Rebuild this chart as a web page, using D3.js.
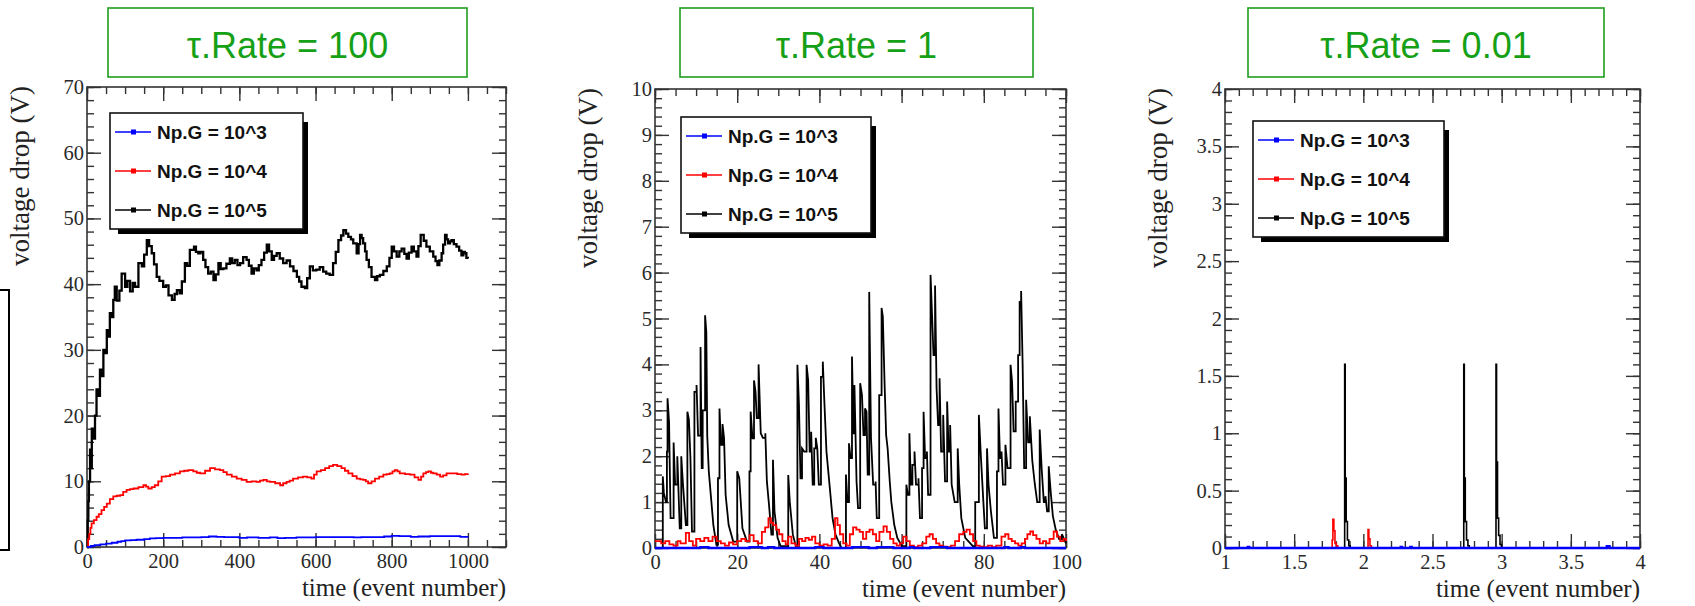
<!DOCTYPE html>
<html>
<head>
<meta charset="utf-8">
<script src="https://cdn.jsdelivr.net/npm/d3@7"></script>
<style>
  body { margin: 0; background: #fff; }
  svg { display: block; }
</style>
</head>
<body>
<svg id="chart" width="1695" height="606"></svg>
<script>
// ---------- data ----------
const panelTitles = ["τ.Rate = 100", "τ.Rate = 1", "τ.Rate = 0.01"];
const seriesLabels = ["Np.G = 10^3", "Np.G = 10^4", "Np.G = 10^5"];
const xAxisTitle = "time (event number)";
const yAxisTitle = "voltage drop (V)";

// τ.Rate = 100 : [event, volts]
const rate100_g3 = [[0,0],[10,0.15],[20,0.3],[35,0.4],[50,0.5],[65,0.65],[80,0.8],[90,0.9],[100,1.0],[115,1.05],[130,1.1],[150,1.2],[165,1.3],[180,1.35],[200,1.4],[250,1.45],[300,1.5],[320,1.6],[340,1.55],[360,1.5],[400,1.4],[420,1.45],[450,1.4],[480,1.45],[500,1.35],[520,1.4],[550,1.45],[600,1.5],[650,1.5],[700,1.45],[720,1.5],[780,1.6],[800,1.7],[820,1.65],[850,1.55],[870,1.6],[900,1.65],[950,1.65],[980,1.55],[1000,1.6]];
const rate100_g4 = [[0,0],[3,1.2],[6,2.0],[9,2.9],[12,3.6],[18,4.1],[25,4.6],[31,5.0],[38,5.6],[45,6.1],[52,6.6],[60,7.3],[69,7.7],[78,7.8],[87,7.9],[95,8.4],[104,8.7],[113,8.8],[122,8.9],[135,9.1],[148,9.4],[155,9.2],[161,8.9],[170,9.1],[178,9.4],[187,10.0],[196,10.7],[207,10.8],[218,11.0],[231,11.2],[244,11.5],[255,11.6],[266,11.7],[279,11.5],[288,11.3],[297,11.2],[310,11.6],[323,12.0],[336,11.8],[349,11.7],[358,11.4],[367,11.0],[380,10.7],[393,10.4],[406,10.2],[419,9.9],[432,10.0],[445,9.9],[454,10.1],[463,10.2],[472,10.0],[480,9.9],[494,9.7],[507,9.4],[515,9.7],[524,9.9],[532,10.1],[541,10.4],[554,10.6],[567,10.7],[578,10.6],[589,10.4],[596,11.0],[603,11.5],[614,11.7],[625,12.0],[636,12.3],[646,12.5],[657,12.3],[668,12.0],[677,11.6],[686,11.2],[697,10.8],[708,10.4],[717,10.3],[725,10.2],[732,10.0],[738,9.7],[747,10.0],[756,10.4],[767,10.7],[778,11.0],[787,11.1],[795,11.2],[802,11.5],[808,11.7],[815,11.5],[821,11.2],[835,11.1],[848,11.0],[860,10.6],[870,10.2],[877,10.7],[883,11.2],[890,11.4],[896,11.5],[903,11.3],[909,11.2],[918,11.0],[927,10.7],[935,10.9],[944,11.2],[952,11.2],[961,11.2],[972,11.1],[983,11.0],[992,11.1],[1000,11.2]];
const rate100_g5 = [[0,0],[2,4],[3.5,7],[5,10],[8,14.8],[10,12],[12.6,18],[16,16.5],[21,20],[25,24],[30,23],[34,27],[38,26],[43,30],[48,29.5],[52,33],[56,32],[60,35.6],[64,35],[69,37.6],[73,39.6],[78,37.5],[85,39],[91,41.6],[100,39.6],[106,40.5],[113,38.9],[120,40.2],[126,39.6],[135,43.2],[144,42.7],[150,44.5],[157,46.7],[163,45.8],[170,44.7],[176,43],[183,41.1],[190,40.5],[200,39.6],[207,39.8],[214,38.3],[223,37.6],[230,38.5],[236,39.1],[243,38.6],[249,40.4],[257,43.2],[263,42.8],[270,45.2],[281,45.7],[286,44.9],[292,44.7],[298,44.9],[305,43.7],[311,42.6],[318,41.6],[325,41.9],[332,40.6],[338,41.5],[345,43.2],[351,42.3],[358,42.4],[366,43.1],[375,43.9],[381,43.2],[388,43.7],[395,42.9],[402,43.2],[410,44.1],[419,43.7],[425,42.8],[432,41.6],[438,42.4],[445,42.1],[451,42.9],[458,43.7],[465,44.8],[472,46.0],[478,45.0],[485,43.7],[491,44.3],[498,44.7],[506,43.9],[515,43.2],[524,43.6],[533,42.7],[542,42.0],[551,41.1],[557,40.4],[563,39.6],[572,39.4],[578,40.9],[585,42.7],[593,42.1],[602,42.2],[611,42.6],[620,41.9],[628,41.6],[637,41.4],[646,43.2],[653,44.9],[660,46.7],[667,47.4],[673,48.2],[680,47.7],[686,47.2],[693,46.8],[699,46.2],[708,44.7],[713,46.1],[717,47.5],[721,47.0],[725,46.2],[730,45.0],[734,43.7],[740,42.6],[747,41.1],[756,40.6],[762,41.2],[769,41.4],[778,42.0],[787,42.7],[794,44.0],[800,45.7],[806,45.0],[813,44.2],[820,45.0],[826,45.4],[833,44.6],[839,43.9],[845,44.8],[852,45.7],[858,45.0],[865,44.2],[870,45.8],[876,47.5],[884,46.6],[891,45.7],[900,45.0],[909,44.2],[915,43.5],[920,42.9],[925,43.6],[931,44.7],[935,46.0],[940,47.5],[944,46.8],[948,46.2],[953,46.5],[957,46.7],[963,46.1],[970,45.7],[977,45.1],[983,44.4],[988,44.9],[992,44.7],[996,44.0],[1000,43.9]];

// τ.Rate = 1 : [event, volts]
const rate1_g3 = [[0,0],[11,0.02],[13,0],[23,0.02],[26,0],[27.5,0.02],[29,0],[39,0.02],[41,0],[48,0.02],[52,0],[54,0.02],[58,0],[62,0.02],[63,0],[67,0.02],[71,0],[85,0.02],[86,0],[89,0.02],[90,0],[100,0]];
const rate1_g4 = [[0,0.15],[1.5,0.1],[2.5,0.15],[3.5,0.08],[4.5,0.05],[5.5,0.15],[6.2,0.1],[7.5,0.33],[8.3,0.15],[9.2,0.05],[10,0.2],[11,0.15],[12,0.22],[13,0.15],[14,0.25],[15,0.15],[16,0.1],[17,0.05],[18,0.12],[19,0.08],[20,0.15],[21,0.2],[22,0.15],[23,0.28],[24,0.15],[25,0.1],[26,0.35],[26.8,0.45],[27.6,0.65],[28.2,0.55],[28.8,0.5],[29.5,0.4],[30.2,0.3],[31,0.15],[31.8,0.08],[32.4,0.25],[33.2,0.1],[34.2,0.05],[35,0.2],[35.8,0.15],[36.6,0.22],[37.4,0.18],[38.2,0.25],[39,0.1],[40,0.05],[41,0.08],[42,0.05],[43,0.2],[43.8,0.65],[44.4,0.5],[45,0.3],[45.8,0.1],[46.6,0.05],[47.4,0.3],[48.2,0.45],[49,0.4],[49.8,0.35],[50.6,0.2],[51.4,0.35],[52.2,0.4],[53,0.3],[53.8,0.15],[54.6,0.35],[55.6,0.47],[56.4,0.35],[57.2,0.2],[58,0.1],[58.8,0.05],[59.6,0.1],[60.4,0.25],[61.2,0.15],[62,0.05],[63,0.02],[64,0.05],[65,0.1],[66,0.25],[66.8,0.3],[67.6,0.2],[68.4,0.1],[69.2,0.05],[70,0.03],[71,0.02],[72,0.05],[73,0.15],[74,0.3],[75,0.35],[75.8,0.4],[76.6,0.3],[77.4,0.15],[78.2,0.05],[79,0.03],[80,0.02],[81,0.05],[82,0.02],[83,0.05],[84.3,0.25],[85.2,0.3],[86,0.2],[86.8,0.15],[87.6,0.1],[88.4,0.05],[89.2,0.1],[90,0.2],[90.6,0.3],[91.3,0.36],[92,0.28],[92.8,0.2],[93.6,0.1],[94.4,0.15],[95.2,0.1],[96,0.2],[97,0.36],[97.8,0.25],[98.6,0.15],[99.4,0.2],[100,0.15]];
const rate1_g5 = [[0,0],[1.9,0],[1.9,1.56],[2.15,1.2],[2.67,1.0],[2.9,2.1],[3.05,3.26],[3.42,2.75],[3.79,0.65],[4.53,2.3],[4.9,1.38],[5.43,2.0],[6.02,0.43],[6.39,2.0],[6.76,1.45],[7.51,0.5],[7.88,2.97],[8.25,2.8],[8.62,1.96],[9.0,0.36],[9.59,3.4],[10.11,3.55],[10.48,2.45],[11.08,4.38],[11.37,1.74],[11.6,3.0],[12.19,5.07],[12.49,4.7],[12.71,2.45],[13.09,1.67],[14.2,0.5],[14.94,0.07],[15.32,1.52],[15.69,3.04],[16.06,2.25],[16.43,2.7],[16.8,2.4],[17.18,1.16],[17.92,0.5],[19.03,0.14],[20.0,1.67],[20.5,1.52],[21.27,0.43],[22.38,0.14],[22.98,1.67],[23.27,2.97],[23.72,2.39],[24.09,3.65],[24.46,3.4],[24.76,2.83],[25.2,4.0],[25.73,2.5],[26.25,2.4],[26.84,2.5],[27.22,1.45],[27.74,0.94],[28.33,0.29],[28.7,1.92],[29.07,0.8],[29.82,0.22],[30.56,0.04],[32.42,1.59],[32.79,1.01],[33.54,0.29],[34.28,0.04],[34.65,3.99],[35.02,3.15],[35.4,1.52],[35.77,2.17],[36.29,2.1],[36.88,3.99],[37.26,3.66],[37.63,2.1],[38.0,2.53],[38.37,1.38],[38.74,2.17],[39.12,2.4],[39.49,2.17],[39.86,1.38],[40.38,3.73],[40.83,4.06],[41.2,3.2],[41.72,2.1],[42.46,1.38],[43.2,0.65],[43.9,0.3],[44.8,0.1],[45.36,0],[46.46,1.6],[46.83,1.0],[47.2,2.28],[47.57,1.96],[47.93,4.17],[48.3,2.5],[48.52,3.55],[49.04,1.45],[49.4,0.87],[49.92,3.59],[50.36,3.33],[50.73,2.46],[51.1,3.04],[51.46,2.97],[51.75,1.6],[52.12,5.58],[52.56,2.39],[53.08,1.38],[53.67,1.45],[53.96,0.65],[54.55,3.33],[55.13,5.23],[55.43,5.04],[55.87,3.55],[56.24,2.46],[56.6,2.17],[57.12,1.45],[57.49,1.01],[58.22,0.5],[58.96,0.22],[60.06,0.04],[61.16,1.38],[61.53,1.16],[61.9,2.5],[62.26,1.38],[62.63,1.81],[63.14,2.1],[63.51,1.38],[64.1,1.52],[64.47,0.65],[64.98,1.74],[65.35,2.97],[65.72,1.96],[66.16,2.1],[66.45,1.16],[67.04,5.95],[67.41,5.07],[67.77,4.2],[68.14,5.72],[68.51,3.48],[68.88,2.68],[69.24,3.7],[69.61,2.1],[70.12,2.9],[70.57,1.45],[71.08,3.19],[71.45,2.1],[71.81,2.68],[72.18,1.38],[72.92,1.0],[73.65,2.17],[74.02,1.38],[74.53,0.65],[75.49,0.22],[77.33,0.04],[77.91,1.0],[78.8,2.9],[79.31,1.96],[79.9,1.0],[80.26,0.43],[80.78,2.17],[81.15,1.38],[81.73,0.8],[82.47,0.22],[83.2,1.67],[83.57,3.04],[83.94,1.96],[84.31,2.1],[84.67,1.38],[85.26,2.25],[85.78,1.74],[86.51,3.99],[86.88,3.62],[87.25,2.54],[87.76,3.19],[88.35,4.2],[88.72,5.36],[89.08,5.6],[89.45,3.99],[89.82,1.74],[90.3,3.23],[90.8,2.3],[91.2,2.87],[91.8,1.9],[92.4,1.4],[93.0,1.0],[93.6,2.58],[94.1,1.7],[94.6,1.0],[95.0,1.13],[95.4,0.8],[95.8,1.78],[96.3,1.2],[96.8,0.7],[97.5,0.4],[98.3,0.2],[99.0,0.3],[100,0.1]];

// τ.Rate = 0.01 : [event, volts], held until the next event
const rate001_g3 = [[1,0],[1.165,0.01],[1.175,0],[2.27,0.01],[2.28,0],[2.34,0.01],[2.35,0],[3.76,0.015],[3.78,0],[4,0]];
const rate001_g4 = [[1,0],[1.775,0.07],[1.78,0.25],[1.787,0.15],[1.795,0.04],[1.805,0.02],[1.815,0],[2.034,0.16],[2.04,0.08],[2.048,0.02],[2.058,0],[4,0]];
const rate001_g5 = [[1,0],[1.865,1.6],[1.869,0.61],[1.876,0.23],[1.885,0.07],[1.895,0.02],[1.905,0],[2.726,1.6],[2.73,0.61],[2.737,0.23],[2.746,0.07],[2.756,0.02],[2.766,0],[2.959,1.6],[2.963,0.75],[2.97,0.26],[2.978,0.11],[2.988,0.03],[2.998,0],[4,0]];

// ---------- drawing ----------
const seriesColors = ["#0000ff", "#ff0000", "#000000"];
const svg = d3.select("#chart");
const fmt = d3.format("~g");
const serif = "'Liberation Serif', 'Times New Roman', serif";
const sans = "'Liberation Sans', Arial, sans-serif";

// rises are instantaneous jumps, falls follow the decay between samples
function jumpDecayPath(data, x, y) {
  let d = `M${x(data[0][0])},${y(data[0][1])}`;
  for (let i = 1; i < data.length; i++) {
    const [t, v] = data[i];
    if (v > data[i - 1][1]) d += `H${x(t)}V${y(v)}`;
    else d += `L${x(t)},${y(v)}`;
  }
  return d;
}

const panels = [
  { left: 87, top: 87, right: 506, bottom: 547,
    xDomain: [0, 1100], yDomain: [0, 70],
    xMajor: d3.range(0, 1001, 200), xMinor: d3.range(0, 1101, 50),
    yMajor: d3.range(0, 71, 10), yMinor: d3.range(0, 71, 2),
    series: [rate100_g3, rate100_g4, rate100_g5],
    modes: ["step", "step", "step"], widths: [1.8, 1.8, 2.3],
    box: [108, 8, 467, 77], legend: [110, 113, 303, 229] },
  { left: 655, top: 89, right: 1066, bottom: 548,
    xDomain: [0, 100], yDomain: [0, 10],
    xMajor: d3.range(0, 101, 20), xMinor: d3.range(0, 101, 5),
    yMajor: d3.range(0, 11, 1), yMinor: d3.range(0, 51).map(i => i / 5),
    series: [rate1_g3, rate1_g4, rate1_g5],
    modes: ["step", "step", "jump"], widths: [2.4, 1.8, 1.8],
    box: [680, 8, 1033, 77], legend: [681, 117, 871, 233] },
  { left: 1225, top: 89, right: 1640, bottom: 548,
    xDomain: [1, 4], yDomain: [0, 4],
    xMajor: d3.range(0, 7).map(i => 1 + i * 0.5), xMinor: d3.range(0, 31).map(i => 1 + i / 10),
    yMajor: d3.range(0, 9).map(i => i * 0.5), yMinor: d3.range(0, 41).map(i => i / 10),
    series: [rate001_g3, rate001_g4, rate001_g5],
    modes: ["step", "step", "step"], widths: [2.4, 1.6, 1.6],
    box: [1248, 8, 1604, 77], legend: [1253, 121, 1444, 237] }
];

// partial frame at the far left edge
svg.append("rect").attr("x", -6).attr("y", 290).attr("width", 15).attr("height", 260)
  .attr("fill", "none").attr("stroke", "#000").attr("stroke-width", 2);

panels.forEach((p, pi) => {
  const w = p.right - p.left, h = p.bottom - p.top;
  const x = d3.scaleLinear().domain(p.xDomain).range([0, w]);
  const y = d3.scaleLinear().domain(p.yDomain).range([h, 0]);

  // title box
  const [bx0, by0, bx1, by1] = p.box;
  svg.append("rect").attr("x", bx0).attr("y", by0).attr("width", bx1 - bx0).attr("height", by1 - by0)
    .attr("fill", "#fff").attr("stroke", "#1e9e1e").attr("stroke-width", 1.6);
  svg.append("text").attr("x", (bx0 + bx1) / 2).attr("y", 58).attr("text-anchor", "middle")
    .attr("font-family", sans).attr("font-size", 36)
    .attr("fill", "#16a016").text(panelTitles[pi]);

  const g = svg.append("g").attr("transform", `translate(${p.left},${p.top})`);

  const tickStyle = sel => {
    sel.select(".domain").remove();
    sel.selectAll(".tick line").attr("stroke", "#333").attr("stroke-width", 1.4);
    sel.selectAll(".tick text").attr("font-family", serif)
      .attr("font-size", 20.5).attr("fill", "#2a2a2a");
  };

  // minor ticks on all four sides
  g.append("g").attr("transform", `translate(0,${h})`).call(d3.axisBottom(x).tickValues(p.xMinor).tickSize(-7).tickFormat("")).call(tickStyle);
  g.append("g").call(d3.axisTop(x).tickValues(p.xMinor).tickSize(-7).tickFormat("")).call(tickStyle);
  g.append("g").call(d3.axisLeft(y).tickValues(p.yMinor).tickSize(-7).tickFormat("")).call(tickStyle);
  g.append("g").attr("transform", `translate(${w},0)`).call(d3.axisRight(y).tickValues(p.yMinor).tickSize(-7).tickFormat("")).call(tickStyle);
  // major ticks, labelled on bottom and left
  g.append("g").attr("transform", `translate(0,${h})`).call(d3.axisBottom(x).tickValues(p.xMajor).tickSize(-14).tickPadding(6).tickFormat(fmt)).call(tickStyle);
  g.append("g").call(d3.axisTop(x).tickValues(p.xMajor).tickSize(-14).tickFormat("")).call(tickStyle);
  g.append("g").call(d3.axisLeft(y).tickValues(p.yMajor).tickSize(-14).tickPadding(3).tickFormat(fmt)).call(tickStyle);
  g.append("g").attr("transform", `translate(${w},0)`).call(d3.axisRight(y).tickValues(p.yMajor).tickSize(-14).tickFormat("")).call(tickStyle);

  // frame
  g.append("rect").attr("width", w).attr("height", h).attr("fill", "none")
    .attr("stroke", "#333").attr("stroke-width", 1.6);

  // axis titles
  g.append("text").attr("x", w).attr("y", h + 49).attr("text-anchor", "end")
    .attr("font-family", serif).attr("font-size", 25)
    .attr("fill", "#222").text(xAxisTitle);
  g.append("text").attr("transform", `translate(-58,-1) rotate(-90)`).attr("text-anchor", "end")
    .attr("font-family", serif).attr("font-size", 27)
    .attr("fill", "#222").text(yAxisTitle);

  // series
  const clipId = `clip${pi}`;
  g.append("clipPath").attr("id", clipId).append("rect")
    .attr("x", -2).attr("y", -2).attr("width", w + 4).attr("height", h + 4);
  const stepLine = d3.line().x(d => x(d[0])).y(d => y(d[1])).curve(d3.curveStepAfter);
  const plot = g.append("g").attr("clip-path", `url(#${clipId})`);
  [2, 1, 0].forEach(si => {
    const data = p.series[si];
    plot.append("path")
      .attr("d", p.modes[si] === "jump" ? jumpDecayPath(data, x, y) : stepLine(data))
      .attr("fill", "none").attr("stroke", seriesColors[si])
      .attr("stroke-width", p.widths[si]).attr("stroke-linejoin", "miter");
  });

  // legend with drop shadow
  const [lx0, ly0, lx1, ly1] = p.legend;
  svg.append("path")
    .attr("d", `M${lx1},${ly0 + 9}H${lx1 + 5}V${ly1 + 5}H${lx0 + 8}V${ly1}H${lx1}Z`)
    .attr("fill", "#000");
  svg.append("rect").attr("x", lx0).attr("y", ly0).attr("width", lx1 - lx0).attr("height", ly1 - ly0)
    .attr("fill", "#fff").attr("stroke", "#111").attr("stroke-width", 1.6);
  const rowOffsets = [19, 58, 97];
  seriesLabels.forEach((lab, si) => {
    const ry = ly0 + rowOffsets[si];
    svg.append("line").attr("x1", lx0 + 5).attr("x2", lx0 + 41).attr("y1", ry).attr("y2", ry)
      .attr("stroke", seriesColors[si]).attr("stroke-width", 1.6);
    svg.append("rect").attr("x", lx0 + 21).attr("y", ry - 2.5).attr("width", 5).attr("height", 5)
      .attr("fill", seriesColors[si]);
    svg.append("text").attr("x", lx0 + 47).attr("y", ry).attr("dy", "0.36em")
      .attr("font-family", sans).attr("font-weight", "bold")
      .attr("font-size", 19).attr("fill", "#111").text(lab);
  });
});
</script>
</body>
</html>
